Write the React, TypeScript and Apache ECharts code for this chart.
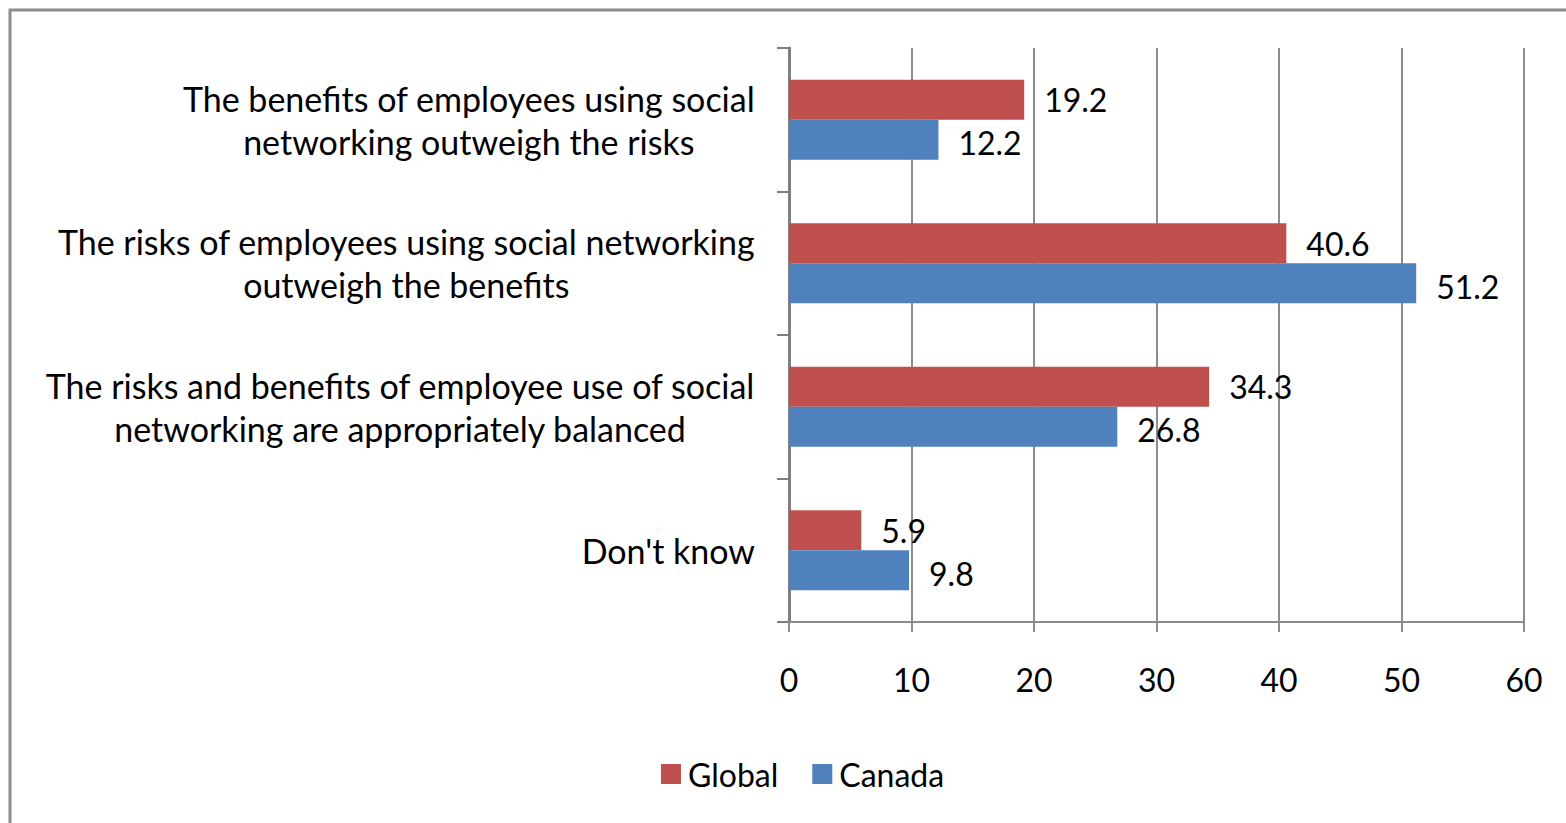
import React, { useEffect, useRef } from "react";
import * as echarts from "echarts";

const categories = [
  "The benefits of employees using social\nnetworking outweigh the risks",
  "The risks of employees using social networking\noutweigh the benefits",
  "The risks and benefits of employee use of social\nnetworking are appropriately balanced",
  "Don't know",
];
const seriesNames = ["Global", "Canada"];
const globalValues = [19.2, 40.6, 34.3, 5.9];
const canadaValues = [12.2, 51.2, 26.8, 9.8];
const xTicks = { min: 0, max: 60, interval: 10 };

const FONT = "Lato";
const RED = "#C0504D";
const BLUE = "#4F81BD";

export default function App() {
  const ref = useRef<HTMLDivElement>(null);
  useEffect(() => {
    if (!ref.current) return;
    const chart = echarts.init(ref.current, undefined, { renderer: "svg" });
    const labelStyle = {
      show: true,
      position: "right" as const,
      distance: 20,
      color: "#000",
      fontFamily: FONT,
      fontSize: 32,
    };
    chart.setOption({
      animation: false,
      backgroundColor: "#fff",
      textStyle: { fontFamily: FONT },
      grid: { left: 789, right: 42, top: 48, bottom: 201, containLabel: false },
      legend: {
        data: seriesNames,
        left: 656,
        top: 753,
        itemWidth: 20,
        itemHeight: 20,
        itemGap: 34,
        icon: "rect",
        textStyle: { fontFamily: FONT, fontSize: 32, color: "#000", padding: [0, 0, 0, 2] },
      },
      xAxis: {
        type: "value",
        min: xTicks.min,
        max: xTicks.max,
        interval: xTicks.interval,
        axisLine: { show: true, lineStyle: { color: "#8c8c8c", width: 2 } },
        axisTick: { show: true, length: 10, lineStyle: { color: "#8c8c8c", width: 2 } },
        splitLine: { show: true, lineStyle: { color: "#8c8c8c", width: 2 } },
        axisLabel: { color: "#000", fontFamily: FONT, fontSize: 32, margin: 41 },
      },
      yAxis: {
        type: "category",
        inverse: true,
        data: categories,
        axisLine: { show: true, lineStyle: { color: "#808080", width: 3 } },
        axisTick: { show: true, length: 12, lineStyle: { color: "#808080", width: 2 } },
        axisLabel: {
          margin: 34,
          color: "#000",
          fontFamily: FONT,
          fontSize: 34,
          lineHeight: 43,
          formatter: (v: string) => `{c|${v}}`,
          rich: {
            c: { align: "center", fontFamily: FONT, fontSize: 34, lineHeight: 43, color: "#000" },
          },
        },
      },
      series: [
        {
          name: seriesNames[0],
          type: "bar",
          data: globalValues,
          barWidth: 40,
          barGap: "0%",
          itemStyle: { color: RED },
          label: labelStyle,
        },
        {
          name: seriesNames[1],
          type: "bar",
          data: canadaValues,
          barWidth: 40,
          barGap: "0%",
          itemStyle: { color: BLUE },
          label: { ...labelStyle, offset: [0, 3] },
        },
      ],
      graphic: [
        {
          type: "polyline",
          silent: true,
          shape: { points: [[10, 823], [10, 10], [1566, 10]] },
          style: { stroke: "#8c8c8c", lineWidth: 3, fill: "none" },
        },
      ],
    });
    return () => chart.dispose();
  }, []);
  return (
    <div
      ref={ref}
      style={{ position: "fixed", left: 0, top: 0, width: 1566, height: 823, background: "#fff" }}
    />
  );
}
